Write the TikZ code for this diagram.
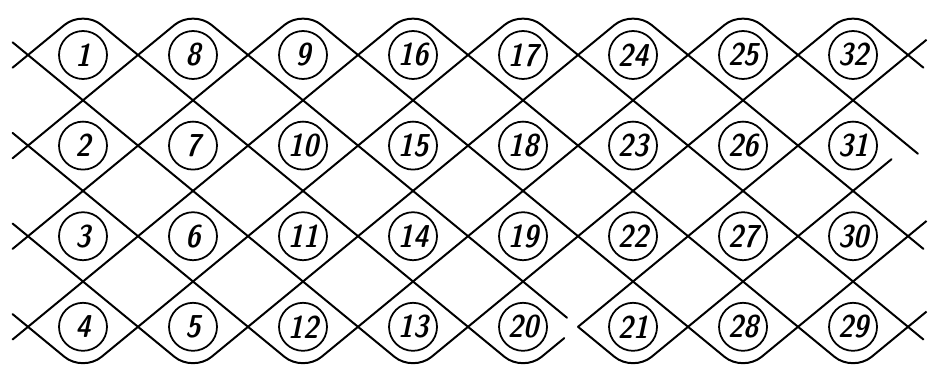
\documentclass[tikz,border=0pt]{standalone}
\usepackage{fontspec}
\begin{document}
\begin{tikzpicture}[x=1.65cm, y=-1.359cm, line cap=round,
  cell/.style={draw, circle, line width=1.5pt, minimum size=1.44cm, inner sep=0pt, font=\sffamily\fontseries{sbc}\slshape\fontsize{27}{27}\selectfont},
  cord/.style={line width=1.7pt, rounded corners=0.72cm}]
\useasboundingbox (-0.509,-0.214) rectangle (16.545,8.108);

\node[cell] (c1) at (1,1) {1};
\node[cell] (c2) at (1,3) {2};
\node[cell] (c3) at (1,5) {3};
\node[cell] (c4) at (1,7) {4};

\node[cell] (c5) at (3,7) {5};
\node[cell] (c6) at (3,5) {6};
\node[cell] (c7) at (3,3) {7};
\node[cell] (c8) at (3,1) {8};

\node[cell] (c9) at (5,1) {9};
\node[cell] (c10) at (5,3) {10};
\node[cell] (c11) at (5,5) {11};
\node[cell] (c12) at (5,7) {12};

\node[cell] (c13) at (7,7) {13};
\node[cell] (c14) at (7,5) {14};
\node[cell] (c15) at (7,3) {15};
\node[cell] (c16) at (7,1) {16};

\node[cell] (c17) at (9,1) {17};
\node[cell] (c18) at (9,3) {18};
\node[cell] (c19) at (9,5) {19};
\node[cell] (c20) at (9,7) {20};

\node[cell] (c21) at (11,7) {21};
\node[cell] (c22) at (11,5) {22};
\node[cell] (c23) at (11,3) {23};
\node[cell] (c24) at (11,1) {24};

\node[cell] (c25) at (13,1) {25};
\node[cell] (c26) at (13,3) {26};
\node[cell] (c27) at (13,5) {27};
\node[cell] (c28) at (13,7) {28};

\node[cell] (c29) at (15,7) {29};
\node[cell] (c30) at (15,5) {30};
\node[cell] (c31) at (15,3) {31};
\node[cell] (c32) at (15,1) {32};

\draw[cord] (-0.28,1.28) -- (1,0) -- (9,8) -- (9.75,7.25);
\draw[cord] (10,7) -- (16,1) -- (16.28,0.72);
\draw[cord] (-0.28,3.28) -- (3,0) -- (9.8,6.8);
\draw[cord] (10,7) -- (11,8) -- (15.7,3.3);
\draw[cord] (-0.28,5.28) -- (5,0) -- (13,8) -- (16,5) -- (16.28,4.72);
\draw[cord] (-0.28,7.28) -- (7,0) -- (15,8) -- (16,7) -- (16.28,6.72);

\draw[cord] (-0.28,0.72) -- (7,8) -- (15,0) -- (16.28,1.28);
\draw[cord] (-0.28,2.72) -- (5,8) -- (13,0) -- (16.18,3.18);
\draw[cord] (-0.28,4.72) -- (3,8) -- (11,0) -- (16.28,5.28);
\draw[cord] (-0.28,6.72) -- (1,8) -- (9,0) -- (16.28,7.28);
\end{tikzpicture}
\end{document}
